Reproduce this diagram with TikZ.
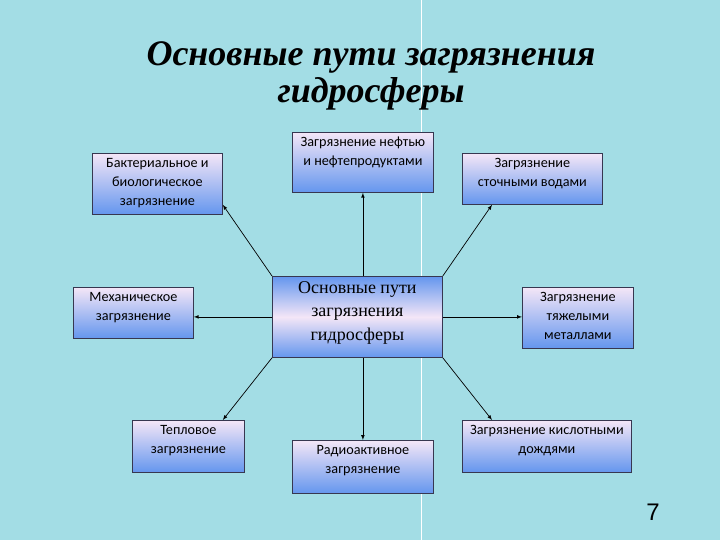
\documentclass[tikz,border=0pt]{standalone}
\usepackage{fontspec}
\setmainfont{Liberation Serif}
\newfontfamily\boxfont{Carlito}
\newfontfamily\numfont{Liberation Sans}
\usetikzlibrary{arrows}

\definecolor{water}{RGB}{163,221,229}
\definecolor{boxtop}{RGB}{244,230,247}
\definecolor{boxbot}{RGB}{100,150,238}
\definecolor{boxline}{RGB}{55,55,80}

% text of a box: width, height, lines (top aligned)
\newcommand{\boxtext}[3]{\parbox[c][#2][t]{#1}{\centering\vspace*{5pt}#3}}

\begin{document}
\begin{tikzpicture}[x=1pt,y=-1pt,
    pathbox/.style={draw=boxline,line width=0.8pt,inner sep=0pt,anchor=north west,
      top color=boxtop,bottom color=boxbot,
      font=\boxfont\fontsize{14.2}{19}\selectfont},
    mainbox/.style={draw=boxline,line width=0.8pt,inner sep=0pt,anchor=north west,
      top color=boxbot,bottom color=boxbot,middle color=boxtop,
      font=\fontsize{18}{23.5}\selectfont},
    link/.style={-latex,line width=0.7pt,black}]

\useasboundingbox[fill=water] (0,0) rectangle (720,540);
\draw[white,line width=0.6pt] (421,0) -- (421,540);

\node[align=center,font=\bfseries\itshape\fontsize{36}{37.5}\selectfont] (title) at (371,76)
  {Основные пути загрязнения\\гидросферы};

\node[mainbox] (main) at (272,276)
  {\boxtext{170pt}{81pt}{Основные пути\\загрязнения\\гидросферы}};

\node[pathbox] (bact) at (92,153)
  {\boxtext{130pt}{61pt}{Бактериальное и\\биологическое\\загрязнение}};
\node[pathbox] (oil) at (292,132)
  {\boxtext{141pt}{60pt}{Загрязнение нефтью\\и нефтепродуктами}};
\node[pathbox] (sewage) at (462,153)
  {\boxtext{140pt}{51pt}{Загрязнение\\сточными водами}};
\node[pathbox] (mech) at (73,287)
  {\boxtext{120pt}{51pt}{Механическое\\загрязнение}};
\node[pathbox] (metal) at (522,287)
  {\boxtext{111pt}{61pt}{Загрязнение\\тяжелыми\\металлами}};
\node[pathbox] (heat) at (132,420)
  {\boxtext{112pt}{52pt}{Тепловое\\загрязнение}};
\node[pathbox] (radio) at (292,440)
  {\boxtext{141pt}{53pt}{Радиоактивное\\загрязнение}};
\node[pathbox] (acid) at (462,420)
  {\boxtext{169pt}{52pt}{Загрязнение кислотными\\дождями}};

\draw[link] (main.north west) -- ([yshift=10pt]bact.south east);
\draw[link] (main.north -| oil.south) -- (oil.south);
\draw[link] (main.north east) -- ([xshift=30pt]sewage.south west);
\draw[link] (main.west) -- (main.west -| mech.east);
\draw[link] (main.east) -- (main.east -| metal.west);
\draw[link] (main.south west) -- ([xshift=-22pt]heat.north east);
\draw[link] (main.south -| radio.north) -- (radio.north);
\draw[link] (main.south east) -- ([xshift=30pt]acid.north west);

\node[font=\numfont\fontsize{24}{24}\selectfont] (page) at (653,512) {7};
\end{tikzpicture}
\end{document}
